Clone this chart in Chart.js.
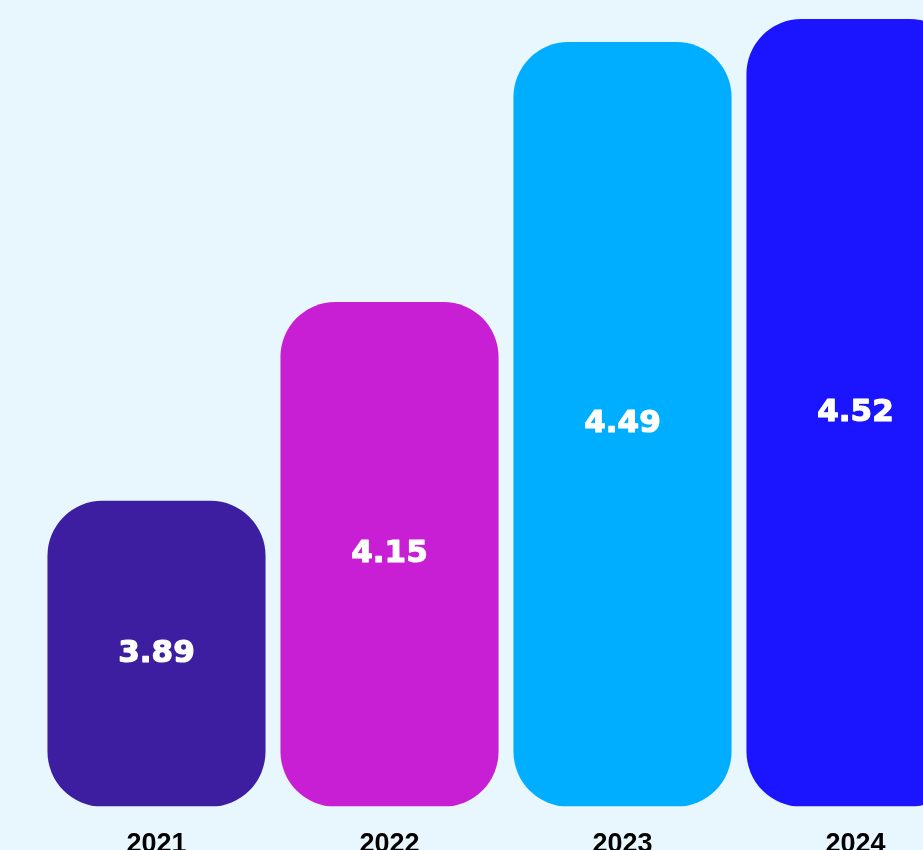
<!DOCTYPE html>
<html>
<head>
<meta charset="utf-8">
<script src="https://cdn.jsdelivr.net/npm/chart.js@4"></script>
<style>
    html, body {
        margin: 0;
        padding: 0;
        overflow: hidden;
        background: #E8F6FD;
    }
    #chart {
        position: absolute;
        left: 0;
        top: 0;
    }
</style>
</head>
<body>
<canvas id="chart" width="1010" height="883"></canvas>
<script>
// Chart data
const years = ['2021', '2022', '2023', '2024'];
const scores = [3.89, 4.15, 4.49, 4.52];
const barColors = ['#3D1EA1', '#C81ED4', '#00AEFF', '#1A14FF'];
const yMin = 3.49;
const yMax = 4.545;

// Value labels drawn inside each bar (stroked a little for a heavier look)
const valueLabels = {
    id: 'valueLabels',
    afterDatasetsDraw(chart) {
        const ctx = chart.ctx;
        const meta = chart.getDatasetMeta(0);
        ctx.save();
        ctx.fillStyle = '#FFFFFF';
        ctx.strokeStyle = '#FFFFFF';
        ctx.lineWidth = 1.2;
        ctx.lineJoin = 'round';
        ctx.font = 'bold 31px "DejaVu Sans"';
        ctx.textAlign = 'center';
        ctx.textBaseline = 'middle';
        meta.data.forEach((bar, i) => {
            const text = chart.data.datasets[0].data[i].toFixed(2);
            const y = (bar.y + bar.base) / 2;
            ctx.fillText(text, bar.x, y);
            ctx.strokeText(text, bar.x, y);
        });
        ctx.restore();
    }
};

const ctx = document.getElementById('chart').getContext('2d');
new Chart(ctx, {
    type: 'bar',
    data: {
        labels: years,
        datasets: [{
            data: scores,
            base: yMin,
            backgroundColor: barColors,
            borderRadius: 55,
            borderSkipped: false,
            categoryPercentage: 1,
            barPercentage: 0.936
        }]
    },
    options: {
        responsive: false,
        animation: false,
        layout: {
            padding: { left: 40, right: 38, top: 0, bottom: 0 }
        },
        plugins: {
            legend: { display: false },
            tooltip: { enabled: false }
        },
        scales: {
            x: {
                grid: { display: false, drawTicks: false },
                border: { display: false },
                ticks: {
                    color: '#000000',
                    padding: 22,
                    font: { family: '"Liberation Sans", Arial, sans-serif', size: 27, weight: 'bold' }
                }
            },
            y: {
                display: false,
                min: yMin,
                max: yMax
            }
        }
    },
    plugins: [valueLabels]
});
</script>
</body>
</html>
